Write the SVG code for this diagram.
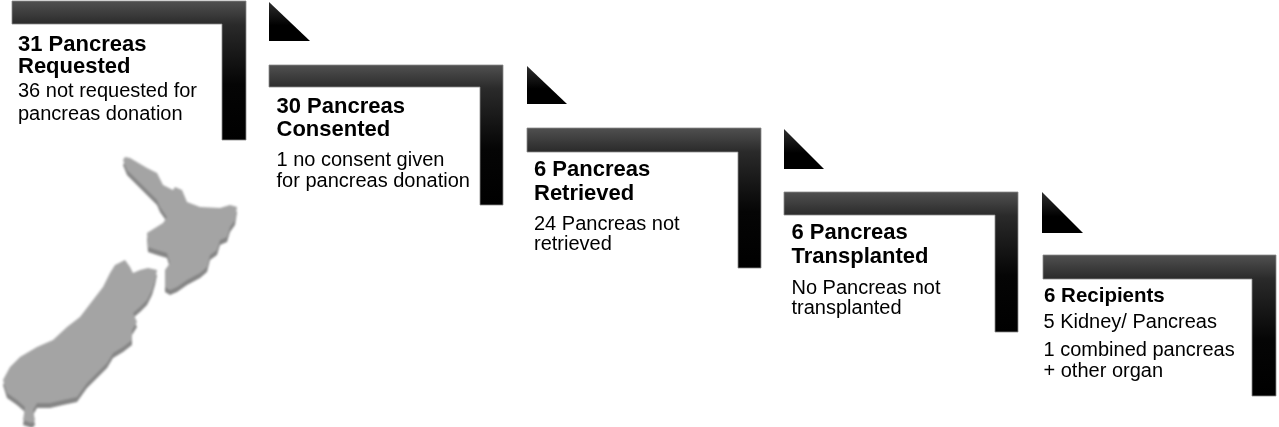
<svg xmlns="http://www.w3.org/2000/svg" width="1279" height="427" viewBox="0 0 1279 427">
<defs>
<linearGradient id="gL" x1="0" y1="0" x2="0" y2="1">
<stop offset="0" stop-color="#505050"/>
<stop offset="0.17" stop-color="#2a2a2a"/>
<stop offset="0.6" stop-color="#050505"/>
<stop offset="1" stop-color="#000"/>
</linearGradient>
<linearGradient id="gT" x1="0" y1="0" x2="0" y2="1">
<stop offset="0" stop-color="#2e2e2e"/>
<stop offset="0.6" stop-color="#000"/>
</linearGradient>
<filter id="soft" x="-5%" y="-5%" width="110%" height="110%"><feGaussianBlur stdDeviation="0.8"/></filter>
</defs>
<style>
.bar{fill:url(#gL);stroke:#8a8a8a;stroke-width:0.8}
.tri{fill:url(#gT)}
.t{font-family:"Liberation Sans",Arial,sans-serif;font-weight:bold;font-size:22px;fill:#000}
.b{font-family:"Liberation Sans",Arial,sans-serif;font-size:20px;fill:#000}
</style>
<rect width="1279" height="427" fill="#fff"/>

<g id="map">
<g filter="url(#soft)">
<path fill="#858585" transform="translate(0,5)" d="M125,157 L130,158 L147,168 L157,173 L163,185 L173,190 L175,187 L182,190 L187,202 L200,207 L220,208 L230,205 L237,207 L235,220 L230,227 L227,237 L220,240 L217,250 L210,255 L207,267 L200,273 L187,280 L177,287 L170,290 L165,287 L165,270 L170,263 L167,253 L157,250 L148,247 L147,233 L155,228 L163,223 L167,217 L160,207 L157,200 L147,190 L137,180 L127,170 L123,160 Z"/>
<path fill="#858585" transform="translate(0,5)" d="M115,265 L125,260 L130,267 L133,273 L140,270 L148,268 L157,270 L155,280 L152,290 L147,300 L140,307 L133,313 L137,322 L132,330 L132,340 L123,347 L113,353 L107,363 L97,373 L87,383 L77,397 L63,400 L50,403 L37,403 L33,410 L35,420 L32,423 L23,420 L25,407 L17,400 L7,393 L3,380 L10,367 L20,357 L37,347 L53,340 L67,327 L80,317 L93,300 L103,287 L110,273 Z"/>
<path fill="#a4a4a4" d="M125,157 L130,158 L147,168 L157,173 L163,185 L173,190 L175,187 L182,190 L187,202 L200,207 L220,208 L230,205 L237,207 L235,220 L230,227 L227,237 L220,240 L217,250 L210,255 L207,267 L200,273 L187,280 L177,287 L170,290 L165,287 L165,270 L170,263 L167,253 L157,250 L148,247 L147,233 L155,228 L163,223 L167,217 L160,207 L157,200 L147,190 L137,180 L127,170 L123,160 Z"/>
<path fill="#a4a4a4" d="M115,265 L125,260 L130,267 L133,273 L140,270 L148,268 L157,270 L155,280 L152,290 L147,300 L140,307 L133,313 L137,322 L132,330 L132,340 L123,347 L113,353 L107,363 L97,373 L87,383 L77,397 L63,400 L50,403 L37,403 L33,410 L35,420 L32,423 L23,420 L25,407 L17,400 L7,393 L3,380 L10,367 L20,357 L37,347 L53,340 L67,327 L80,317 L93,300 L103,287 L110,273 Z"/>
</g>
</g>

<g id="connectors">
<path class="tri" d="M269,2 L269,41 L310,41 Z"/>
<path class="tri" d="M527,66 L527,104 L567,104 Z"/>
<path class="tri" d="M784,129 L784,169 L824,169 Z"/>
<path class="tri" d="M1042,192 L1042,233 L1083,233 Z"/>
</g>

<g id="n1">
<path class="bar" d="M12,1 H246 V140 H222 V24 H12 Z"/>
<text class="t" x="18" y="50.5">31 Pancreas</text>
<text class="t" x="18" y="73">Requested</text>
<text class="b" x="18" y="97.3">36 not requested for</text>
<text class="b" x="18" y="119.7">pancreas donation</text>
</g>

<g id="n2">
<path class="bar" d="M269,65 H503 V205 H480 V87 H269 Z"/>
<text class="t" x="276.5" y="113.3">30 Pancreas</text>
<text class="t" x="276.5" y="136">Consented</text>
<text class="b" x="276.5" y="166">1 no consent given</text>
<text class="b" x="276.5" y="186.7">for pancreas donation</text>
</g>

<g id="n3">
<path class="bar" d="M527,128 H761 V268 H738 V152 H527 Z"/>
<text class="t" x="534" y="175.7">6 Pancreas</text>
<text class="t" x="534" y="200">Retrieved</text>
<text class="b" x="534" y="230">24 Pancreas not</text>
<text class="b" x="534" y="250">retrieved</text>
</g>

<g id="n4">
<path class="bar" d="M784,192 H1018 V332 H995 V215 H784 Z"/>
<text class="t" x="791.5" y="239.3">6 Pancreas</text>
<text class="t" x="791.5" y="263.3">Transplanted</text>
<text class="b" x="791.5" y="293.5">No Pancreas not</text>
<text class="b" x="791.5" y="313.5">transplanted</text>
</g>

<g id="n5">
<path class="bar" d="M1043,255 H1276 V396 H1252 V279 H1043 Z"/>
<text class="t" x="1044" y="301.7" style="font-size:20.5px">6 Recipients</text>
<text class="b" x="1043.5" y="328">5 Kidney/ Pancreas</text>
<text class="b" x="1043.5" y="356">1 combined pancreas</text>
<text class="b" x="1043.5" y="377">+ other organ</text>
</g>
</svg>
